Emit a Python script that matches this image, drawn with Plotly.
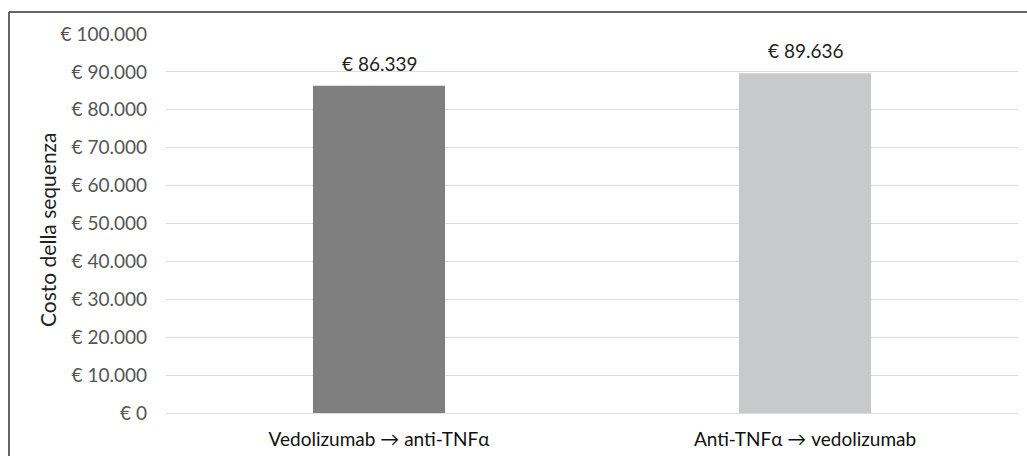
import plotly.graph_objects as go

# Sequence cost per treatment order
categories = ["Vedolizumab \u2192 anti-TNF\u03b1", "Anti-TNF\u03b1 \u2192 vedolizumab"]
costs = [86339, 89636]
bar_colors = ["#7f7f7f", "#c8c9cb"]

FONT = "Lato, 'Open Sans', sans-serif"


def euro(v):
    return "\u20ac " + f"{v:,}".replace(",", ".")


fig = go.Figure(
    go.Bar(
        x=categories,
        y=costs,
        marker=dict(color=bar_colors, line=dict(width=0)),
        width=0.31,
        hoverinfo="skip",
    )
)

annotations = [
    dict(
        x=c, y=v, xref="x", yref="y", text=euro(v), showarrow=False,
        yanchor="bottom", yshift=9,
        font=dict(family=FONT, size=19, color="#222222"),
    )
    for c, v in zip(categories, costs)
]

annotations.append(
    dict(
        text="Costo della sequenza", xref="paper", yref="paper",
        x=-0.1385, y=0.4855, textangle=-90, showarrow=False,
        xanchor="center", yanchor="middle",
        font=dict(family=FONT, size=21, color="#222222"),
    )
)

# Frame lines on the left and top edges
shapes = [
    dict(type="line", xref="paper", yref="paper", x0=-0.1843, x1=-0.1843,
         y0=1.058, y1=-0.12, line=dict(color="#333333", width=1.5)),
    dict(type="line", xref="paper", yref="paper", x0=-0.1843, x1=1.02,
         y0=1.058, y1=1.058, line=dict(color="#333333", width=1.5)),
]

fig.update_layout(
    width=1027,
    height=456,
    margin=dict(l=166, r=9, t=34, b=43),
    paper_bgcolor="white",
    plot_bgcolor="white",
    separators=",.",
    showlegend=False,
    annotations=annotations,
    shapes=shapes,
    font=dict(family=FONT),
    xaxis=dict(
        showline=False, showgrid=False, ticks="",
        tickfont=dict(family=FONT, size=19, color="#111111"),
        ticklabelstandoff=13,
        automargin=False,
        range=[-0.5, 1.5],
    ),
    yaxis=dict(
        range=[0, 100000],
        dtick=10000,
        tickprefix="\u20ac ",
        tickformat=",d",
        showgrid=True,
        gridcolor="#dcdcdc",
        gridwidth=1,
        zeroline=True,
        zerolinecolor="#dcdcdc",
        zerolinewidth=1,
        showline=False,
        ticks="",
        ticklabelstandoff=18,
        automargin=False,
        tickfont=dict(family=FONT, size=19, color="#555555"),
    ),
)

fig.write_html("out.html")
